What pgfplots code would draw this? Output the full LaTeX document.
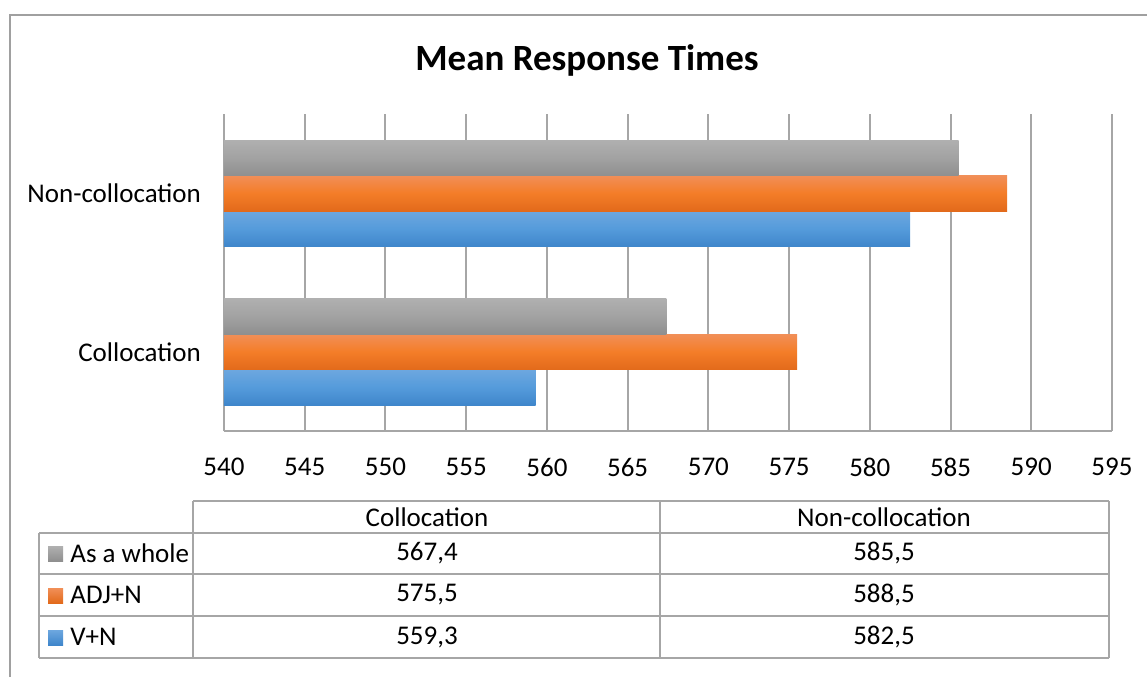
\documentclass[border=0pt]{standalone}
\usepackage{fontspec}
\setmainfont{Carlito}
\usepackage{pgfplots}
\pgfplotsset{compat=1.18}

\definecolor{gridc}{HTML}{A6A6A6}
\definecolor{framec}{HTML}{A0A0A0}
\definecolor{grayT}{HTML}{B0B0B0}
\definecolor{grayM}{HTML}{A2A2A2}
\definecolor{grayB}{HTML}{8F8F8F}
\definecolor{oraT}{HTML}{F18F58}
\definecolor{oraM}{HTML}{F47D28}
\definecolor{oraB}{HTML}{E26A1B}
\definecolor{bluT}{HTML}{6DA7DF}
\definecolor{bluM}{HTML}{559BDB}
\definecolor{bluB}{HTML}{3F86CB}

\pgfplotsset{
  vn/.style={draw=none,top color=bluT,bottom color=bluB,middle color=bluM,bar shift=-17.75pt},
  adj/.style={draw=none,top color=oraT,bottom color=oraB,middle color=oraM,bar shift=0pt},
  whole/.style={draw=none,top color=grayT,bottom color=grayB,middle color=grayM,bar shift=17.75pt},
}

\begin{document}
\begin{tikzpicture}
% picture laid out in pixels of the reference (1 px = 0.5 pt, y downwards)
\begin{scope}[x=0.5pt,y=-0.5pt,yshift=338.5pt]
\useasboundingbox (0,0) rectangle (1147,677);
\draw[framec,line width=1pt] (10,677) -- (10,15) -- (1147,15);
\node[font=\bfseries\fontsize{18.5}{22}\selectfont] at (587,60) {Mean Response Times};

% data table under the chart
\begin{scope}[draw=gridc,line width=1pt]
\draw (193,501) -- (1109,501);
\draw (39,533) -- (1109,533);
\draw (39,574) -- (1109,574);
\draw (39,616) -- (1109,616);
\draw (39,658) -- (1109,658);
\draw (39,533) -- (39,658);
\draw (193,501) -- (193,658);
\draw (660,501) -- (660,658);
\draw (1109,501) -- (1109,658);
\end{scope}
\begin{scope}[font=\fontsize{13.5}{16}\selectfont]
\node at (427,517) {Collocation};
\node at (884,517) {Non-collocation};
\node at (427,553.5) {567,4};
\node at (884,553.5) {585,5};
\node at (427,595) {575,5};
\node at (884,595) {588,5};
\node at (427,637) {559,3};
\node at (884,637) {582,5};
\node[anchor=west,inner sep=0pt] at (70,553.5) {As a whole};
\node[anchor=west,inner sep=0pt] at (70,595) {ADJ+N};
\node[anchor=west,inner sep=0pt] at (70,637) {V+N};
\end{scope}
\fill[top color=grayT,bottom color=grayB] (48,546) rectangle (63,561);
\fill[top color=oraT,bottom color=oraB] (48,588) rectangle (63,603);
\fill[top color=bluT,bottom color=bluB] (48,630) rectangle (63,645);
\end{scope}

\begin{axis}[
  at={(112pt,123pt)}, anchor=south west,
  width=444pt, height=158.5pt, scale only axis,
  xbar=0pt, bar width=17.75pt,
  xmin=540, xmax=595, ymin=-0.5, ymax=1.5,
  xtick={540,545,...,595},
  ytick={0,1}, yticklabels={Collocation,Non-collocation},
  xmajorgrids, grid style={draw=gridc,line width=1pt},
  axis lines*=left,
  axis line style={draw=gridc,line width=1pt},
  major tick length=0pt,
  tick label style={font=\fontsize{13.5}{16}\selectfont},
  xticklabel style={yshift=-10pt},
  yticklabel style={xshift=-8pt},
  /pgf/number format/assume math mode=true,
  /pgf/number format/1000 sep={},
]
% one plot per bar, so that each bar gets its own gradient
\addplot[vn] coordinates {(559.3,0)};
\addplot[vn] coordinates {(582.5,1)};
\addplot[adj] coordinates {(575.5,0)};
\addplot[adj] coordinates {(588.5,1)};
\addplot[whole] coordinates {(567.4,0)};
\addplot[whole] coordinates {(585.5,1)};
\end{axis}
\end{tikzpicture}
\end{document}
